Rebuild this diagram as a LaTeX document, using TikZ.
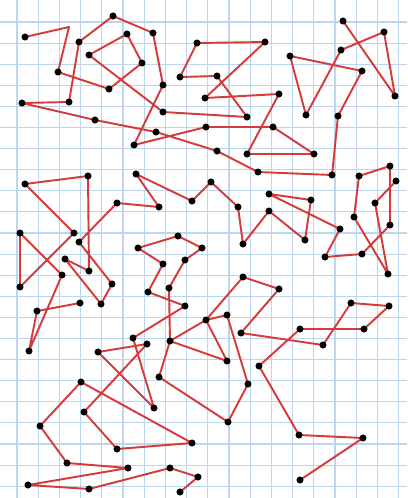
\documentclass[tikz,border=0pt]{standalone}
\definecolor{gridblue}{RGB}{188,214,238}
\definecolor{penred}{RGB}{214,58,58}
\begin{document}
\begin{tikzpicture}[x=0.02cm,y=-0.02cm,
  pen/.style={penred,line width=1.1pt,line join=round}]
\useasboundingbox (0,0) rectangle (407,498);
% grid paper
\foreach \k in {0,...,18} \draw[gridblue,line width=0.6pt] ({17+21.2*\k},0) -- ({17+21.2*\k},498);
\foreach \k in {0,...,22} \draw[gridblue,line width=0.6pt] (0,{22+21.1*\k}) -- (407,{22+21.1*\k});
% top path
\draw[pen] (25,37) -- (69,27) -- (58,72) -- (109,89) -- (142,63) -- (127,34) -- (89,55)
  -- (163,112) -- (247,117) -- (217,76) -- (180,77) -- (197,43) -- (265,42) -- (205,98)
  -- (279,94) -- (247,154) -- (314,154) -- (273,127) -- (206,127) -- (134,145) -- (163,85)
  -- (153,33) -- (113,16) -- (79,42) -- (69,102) -- (22,103) -- (95,120) -- (156,132)
  -- (217,151) -- (258,172) -- (332,175) -- (338,116) -- (362,71) -- (290,56) -- (306,115)
  -- (341,50) -- (384,32) -- (395,96) -- (343,21);
% middle path
\draw[pen] (80,303) -- (37,311) -- (29,351) -- (62,275) -- (20,233) -- (20,287) -- (74,233)
  -- (25,184) -- (88,176) -- (89,271) -- (65,259) -- (101,304) -- (112,284) -- (79,242)
  -- (117,203) -- (159,207) -- (136,174) -- (192,201) -- (211,182) -- (238,207) -- (243,244)
  -- (269,211) -- (305,240) -- (311,200) -- (269,194) -- (340,229) -- (325,257) -- (362,254)
  -- (390,225) -- (390,166) -- (359,176) -- (354,217) -- (388,274) -- (375,203) -- (396,181);
% lower paths
\draw[pen] (185,260) -- (202,248) -- (178,236) -- (138,248) -- (163,264) -- (148,292)
  -- (185,306) -- (133,338) -- (154,408) -- (98,352) -- (147,344) -- (84,412) -- (117,449)
  -- (192,443) -- (81,382) -- (40,426) -- (67,463) -- (128,468) -- (28,485) -- (89,489)
  -- (170,468) -- (198,477) -- (180,492);
\draw[pen] (185,260) -- (169,288) -- (170,341) -- (159,377) -- (228,422) -- (248,384)
  -- (227,315) -- (206,320) -- (243,277) -- (279,289) -- (241,333) -- (323,345) -- (351,303)
  -- (389,306) -- (364,329) -- (300,329) -- (259,366) -- (299,435) -- (363,438) -- (300,480);
\draw[pen] (170,341) -- (206,320) -- (227,361) -- (170,341);
% dots
\foreach \q in {(25,37),(58,72),(109,89),(142,63),(127,34),(89,55),(163,112),(247,117),
  (217,76),(180,77),(197,43),(265,42),(205,98),(279,94),(247,154),(314,154),(273,127),
  (206,127),(134,145),(163,85),(153,33),(113,16),(79,42),(69,102),(22,103),(95,120),
  (156,132),(217,151),(258,172),(332,175),(338,116),(362,71),(290,56),(306,115),(341,50),
  (384,32),(395,96),(343,21)} \fill \q circle (2pt);
\foreach \q in {(80,303),(37,311),(29,351),(62,275),(20,233),(20,287),(74,233),(25,184),
  (88,176),(89,271),(65,259),(101,304),(112,284),(79,242),(117,203),(159,207),(136,174),
  (192,201),(211,182),(238,207),(243,244),(269,211),(305,240),(311,200),(269,194),(340,229),
  (325,257),(362,254),(390,225),(390,166),(359,176),(354,217),(388,274),(375,203),(396,181)}
  \fill \q circle (2pt);
\foreach \q in {(185,260),(202,248),(178,236),(138,248),(163,264),(148,292),(185,306),
  (133,338),(154,408),(98,352),(147,344),(84,412),(117,449),(192,443),(81,382),(40,426),
  (67,463),(128,468),(28,485),(89,489),(170,468),(198,477),(180,492),(169,288),(170,341),
  (159,377),(228,422),(248,384),(227,315),(206,320),(243,277),(279,289),(241,333),(323,345),
  (351,303),(389,306),(364,329),(300,329),(259,366),(299,435),(363,438),(300,480),(227,361)}
  \fill \q circle (2pt);
\end{tikzpicture}
\end{document}
